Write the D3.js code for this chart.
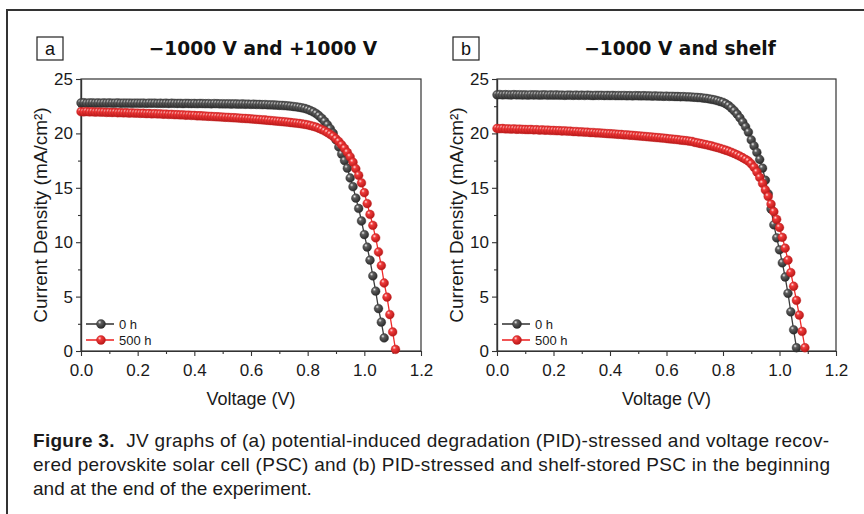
<!DOCTYPE html>
<html><head><meta charset="utf-8">
<script src="https://cdn.jsdelivr.net/npm/d3@7/dist/d3.min.js"></script>
<style>
html,body{margin:0;padding:0;background:#fff;}
svg{display:block;font-family:"Liberation Sans",Arial,sans-serif;}
</style></head>
<body><svg id="c" width="864" height="514"></svg>
<script>
// ---------------- DATA ----------------
const voltage = [0.00,0.01,0.02,0.03,0.04,0.05,0.06,0.07,0.08,0.09,
0.10,0.11,0.12,0.13,0.14,0.15,0.16,0.17,0.18,0.19,
0.20,0.21,0.22,0.23,0.24,0.25,0.26,0.27,0.28,0.29,
0.30,0.31,0.32,0.33,0.34,0.35,0.36,0.37,0.38,0.39,
0.40,0.41,0.42,0.43,0.44,0.45,0.46,0.47,0.48,0.49,
0.50,0.51,0.52,0.53,0.54,0.55,0.56,0.57,0.58,0.59,
0.60,0.61,0.62,0.63,0.64,0.65,0.66,0.67,0.68,0.69,
0.70,0.71,0.72,0.73,0.74,0.75,0.76,0.77,0.78,0.79,
0.80,0.81,0.82,0.83,0.84,0.85,0.86,0.87,0.88,0.89,
0.90,0.91,0.92,0.93,0.94,0.95,0.96,0.97,0.98,0.99,
1.00,1.01,1.02,1.03,1.04,1.05,1.06,1.07,1.08,1.09,
1.10,1.11];

// Panel a: -1000 V and +1000 V
const jA_0h = [22.80,22.82,22.78,22.80,22.81,22.79,22.80,22.78,22.80,22.79,
22.80,22.78,22.79,22.80,22.77,22.79,22.78,22.79,22.77,22.78,
22.78,22.77,22.79,22.76,22.78,22.77,22.78,22.76,22.77,22.76,
22.77,22.75,22.77,22.76,22.75,22.76,22.74,22.76,22.75,22.74,
22.75,22.73,22.75,22.74,22.73,22.74,22.72,22.74,22.73,22.72,
22.72,22.71,22.72,22.70,22.71,22.70,22.69,22.70,22.68,22.69,
22.67,22.68,22.66,22.66,22.64,22.65,22.63,22.62,22.61,22.60,
22.58,22.57,22.55,22.53,22.50,22.47,22.44,22.40,22.35,22.29,
22.20,22.10,21.97,21.82,21.62,21.38,21.10,20.78,20.42,20.02,
19.40,18.75,18.10,17.50,16.80,15.90,15.10,14.05,13.10,11.95,
10.70,9.55,8.35,6.90,5.50,3.90,2.65,1.20];
const jA_500h = [22.00,21.98,22.01,21.97,21.99,21.96,21.97,21.95,21.96,21.93,
21.94,21.92,21.93,21.90,21.91,21.89,21.90,21.87,21.88,21.86,
21.86,21.84,21.85,21.82,21.83,21.80,21.81,21.79,21.79,21.76,
21.77,21.74,21.75,21.72,21.72,21.70,21.70,21.67,21.68,21.65,
21.65,21.62,21.62,21.60,21.59,21.57,21.56,21.54,21.53,21.51,
21.50,21.48,21.47,21.45,21.44,21.42,21.40,21.38,21.37,21.35,
21.33,21.31,21.29,21.27,21.25,21.23,21.20,21.18,21.16,21.13,
21.11,21.08,21.06,21.03,21.00,20.97,20.94,20.91,20.87,20.83,
20.78,20.72,20.65,20.57,20.47,20.35,20.22,20.07,19.90,19.72,
19.50,19.25,18.95,18.62,18.25,17.85,17.35,16.75,16.15,15.45,
14.55,13.55,12.55,11.55,10.40,9.10,7.85,6.25,4.95,3.35,
1.75,0.15];

// Panel b: -1000 V and shelf
const jB_0h = [23.55,23.57,23.54,23.56,23.55,23.53,23.56,23.54,23.55,23.53,
23.54,23.52,23.55,23.53,23.54,23.52,23.53,23.54,23.51,23.53,
23.52,23.53,23.51,23.52,23.50,23.52,23.51,23.50,23.52,23.50,
23.51,23.49,23.51,23.50,23.48,23.50,23.49,23.50,23.48,23.49,
23.48,23.49,23.47,23.48,23.47,23.48,23.46,23.47,23.45,23.47,
23.46,23.45,23.46,23.44,23.45,23.43,23.44,23.42,23.43,23.41,
23.42,23.40,23.41,23.39,23.39,23.37,23.38,23.36,23.35,23.34,
23.32,23.30,23.28,23.25,23.22,23.18,23.13,23.08,23.01,22.93,
22.85,22.72,22.55,22.33,22.07,21.77,21.42,21.03,20.60,20.12,
19.40,18.85,18.25,17.60,16.80,15.70,14.45,13.05,11.60,10.40,
9.30,8.10,6.80,5.30,3.60,1.95,0.30];
const jB_500h = [20.45,20.43,20.45,20.41,20.42,20.40,20.41,20.38,20.39,20.37,
20.36,20.35,20.36,20.33,20.34,20.31,20.32,20.29,20.30,20.27,
20.27,20.25,20.25,20.22,20.23,20.20,20.20,20.17,20.17,20.14,
20.14,20.11,20.11,20.08,20.08,20.05,20.04,20.02,20.01,19.98,
19.97,19.95,19.94,19.91,19.90,19.87,19.86,19.83,19.82,19.79,
19.77,19.75,19.73,19.70,19.68,19.66,19.63,19.61,19.58,19.56,
19.53,19.50,19.48,19.45,19.42,19.39,19.36,19.33,19.29,19.26,
19.18,19.13,19.07,19.02,18.96,18.90,18.84,18.77,18.70,18.62,
18.54,18.45,18.36,18.26,18.15,18.03,17.90,17.76,17.61,17.45,
17.20,16.88,16.45,15.95,15.40,14.80,14.20,13.50,12.80,12.10,
11.35,10.45,9.45,8.35,7.20,5.95,4.65,3.30,1.80,0.30];

const seriesNames = ["0 h", "500 h"];
const panelLetters = ["a", "b"];
const panelTitles = ["\u22121000 V and +1000 V", "\u22121000 V and shelf"];
const xTickValues = [0.0, 0.2, 0.4, 0.6, 0.8, 1.0, 1.2];
const xMinorTicks = [0.1, 0.3, 0.5, 0.7, 0.9, 1.1];
const yTickValues = [0, 5, 10, 15, 20, 25];
const yMinorTicks = [2.5, 7.5, 12.5, 17.5, 22.5];
const xLabel = "Voltage (V)";
const yLabel = "Current Density (mA/cm\u00B2)";
const captionBold = "Figure 3.";
const captionLines = [
  "JV graphs of (a) potential-induced degradation (PID)-stressed and voltage recov-",
  "ered perovskite solar cell (PSC) and (b) PID-stressed and shelf-stored PSC in the beginning",
  "and at the end of the experiment."
];

// ---------------- DRAW ----------------
const svg = d3.select("#c");
svg.append("rect").attr("width",864).attr("height",514).attr("fill","#fff");

const defs = svg.append("defs");
function grad(id, hi, mid, lo){
  const g = defs.append("radialGradient").attr("id",id)
    .attr("cx","38%").attr("cy","35%").attr("r","65%").attr("fx","35%").attr("fy","30%");
  g.append("stop").attr("offset","0%").attr("stop-color",hi);
  g.append("stop").attr("offset","30%").attr("stop-color",mid);
  g.append("stop").attr("offset","100%").attr("stop-color",lo);
}
grad("gGray","#f0f0f0","#5e5e5e","#2b2b2b");
grad("gRed","#ffe0e0","#f03a3a","#b81818");
const colors = [{line:"#3c3c3c", fill:"url(#gGray)", stroke:"#2e2e2e"},
                {line:"#ee2a2a", fill:"url(#gRed)", stroke:"#c01c1c"}];

// outer frame
svg.append("path").attr("d","M7,514 L7,10 L864,10").attr("fill","none")
  .attr("stroke","#333").attr("stroke-width",2);

const panels = [
  {left:81, right:421, series:[jA_0h, jA_500h], titleX:263},
  {left:497, right:836, series:[jB_0h, jB_500h], titleX:680}
];
const plotTop = 79, plotBottom = 351;
const y = d3.scaleLinear().domain([0,25]).range([plotBottom, plotTop]);
const axisColor = "#333";

panels.forEach((p, pi) => {
  const x = d3.scaleLinear().domain([0,1.2]).range([p.left, p.right]);
  const g = svg.append("g");

  // panel letter box
  const bx = p.left - 44;
  g.append("rect").attr("x",bx).attr("y",37).attr("width",26).attr("height",23)
    .attr("fill","#fff").attr("stroke","#222").attr("stroke-width",1.2);
  g.append("text").attr("x",bx+13).attr("y",55).attr("text-anchor","middle")
    .attr("font-size",18).attr("fill","#111").text(panelLetters[pi]);
  // title
  g.append("text").attr("x",p.titleX).attr("y",55).attr("text-anchor","middle")
    .attr("font-family","'DejaVu Sans',Verdana,sans-serif").attr("font-weight","bold")
    .attr("font-size",18.6).attr("fill","#111").text(panelTitles[pi]);

  // plot frame
  g.append("rect").attr("x",p.left).attr("y",plotTop).attr("width",p.right-p.left)
    .attr("height",plotBottom-plotTop).attr("fill","none").attr("stroke",axisColor).attr("stroke-width",1.2);

  // axes
  g.append("g").attr("transform",`translate(0,${plotBottom})`)
    .call(d3.axisBottom(x).tickValues(xTickValues).tickFormat(d3.format(".1f"))
      .tickSize(5).tickSizeOuter(0).tickPadding(8));
  g.append("g").attr("transform",`translate(0,${plotBottom})`)
    .call(d3.axisBottom(x).tickValues(xMinorTicks).tickFormat("").tickSize(3).tickSizeOuter(0));
  g.append("g").attr("transform",`translate(${p.left},0)`)
    .call(d3.axisLeft(y).tickValues(yTickValues).tickSize(5).tickSizeOuter(0).tickPadding(3));
  g.append("g").attr("transform",`translate(${p.left},0)`)
    .call(d3.axisLeft(y).tickValues(yMinorTicks).tickFormat("").tickSize(3).tickSizeOuter(0));
  g.selectAll(".domain").attr("stroke",axisColor).attr("stroke-width",1.2);
  g.selectAll(".tick line").attr("stroke",axisColor).attr("stroke-width",1.1);
  g.selectAll(".tick text").attr("font-size",17).attr("fill","#1a1a1a")
    .attr("font-family","'Liberation Sans',Arial,sans-serif");

  // axis titles
  g.append("text").attr("x",(p.left+p.right)/2).attr("y",405).attr("text-anchor","middle")
    .attr("font-size",18).attr("fill","#1a1a1a").text(xLabel);
  g.append("text").attr("transform",`translate(${p.left-34},${(plotTop+plotBottom)/2}) rotate(-90)`)
    .attr("text-anchor","middle").attr("font-size",19).attr("fill","#1a1a1a").text(yLabel);

  // series
  const line = d3.line().x(d=>x(d.v)).y(d=>y(d.j));
  p.series.forEach((arr, si) => {
    const pts = arr.map((j,i)=>({v:voltage[i], j}));
    const c = colors[si];
    g.append("path").datum(pts).attr("d",line).attr("fill","none")
      .attr("stroke",c.line).attr("stroke-width",1.3);
    g.append("g").selectAll("circle").data(pts).join("circle")
      .attr("cx",d=>x(d.v)).attr("cy",d=>y(d.j)).attr("r",4.4)
      .attr("fill",c.fill).attr("stroke",c.stroke).attr("stroke-width",0.4);
  });

  // legend
  seriesNames.forEach((name, si) => {
    const ly = 324 + si*16;
    const c = colors[si];
    g.append("line").attr("x1",p.left+5).attr("x2",p.left+33).attr("y1",ly).attr("y2",ly)
      .attr("stroke",c.line).attr("stroke-width",1.6);
    g.append("circle").attr("cx",p.left+20).attr("cy",ly).attr("r",4.5)
      .attr("fill",c.fill).attr("stroke",c.stroke).attr("stroke-width",0.4);
    g.append("text").attr("x",p.left+38).attr("y",ly+4.5).attr("font-size",13)
      .attr("fill","#1a1a1a").text(name);
  });
});

// caption
const capTargets = [829, 830, null];
const capY = [447, 471, 495];
const capNodes = captionLines.map((txt, li) => {
  const t = svg.append("text").attr("x",33).attr("y",capY[li]).attr("font-size",17)
    .attr("fill","#1a1a1a").attr("font-family","'Liberation Sans',Arial,sans-serif");
  if (li === 0) {
    t.append("tspan").attr("font-weight","bold").text(captionBold);
    t.append("tspan").attr("dx",6).text(" " + txt);
  } else {
    t.text(txt);
  }
  return t;
});
// fit font size so the full second line spans the justified width
const w2 = capNodes[1].node().getComputedTextLength();
const capFs = Math.min(19, 17 * (capTargets[1]-33) / w2);
capNodes.forEach((t, li) => {
  t.attr("font-size", capFs);
  if (capTargets[li]) t.attr("textLength", capTargets[li]-33).attr("lengthAdjust","spacing");
});
</script>
</body></html>
